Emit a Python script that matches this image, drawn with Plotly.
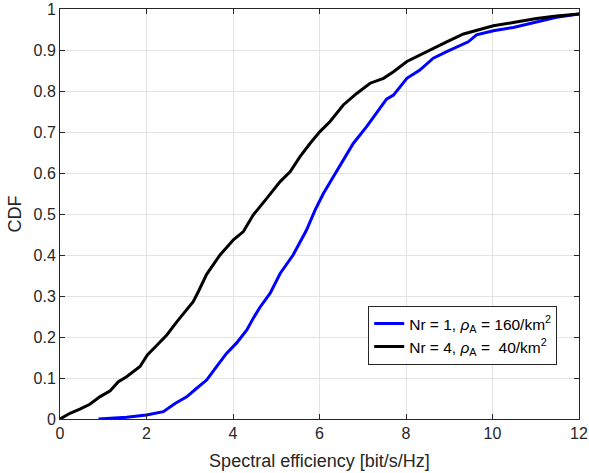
import plotly.graph_objects as go

# spectral efficiency [bit/s/Hz] and CDF values
se_nr1 = [0.89, 1.54, 2.0, 2.39, 2.66, 2.93, 3.16, 3.39, 3.62, 3.85, 4.08, 4.32, 4.47,
          4.62, 4.86, 5.09, 5.39, 5.70, 5.90, 6.09, 6.32, 6.55, 6.78, 7.09, 7.32,
          7.55, 7.71, 8.02, 8.32, 8.63, 8.94, 9.25, 9.44, 9.63, 10.02, 10.48, 11.02,
          11.48, 12.0]
cdf_nr1 = [0.0, 0.004, 0.010, 0.018, 0.038, 0.054, 0.075, 0.095, 0.128, 0.160, 0.185,
           0.217, 0.246, 0.272, 0.307, 0.355, 0.400, 0.461, 0.510, 0.550, 0.591, 0.632,
           0.672, 0.713, 0.746, 0.780, 0.790, 0.831, 0.851, 0.880, 0.896, 0.910, 0.920,
           0.937, 0.947, 0.955, 0.969, 0.980, 0.988]

se_nr4 = [0.0, 0.23, 0.46, 0.69, 0.92, 1.16, 1.35, 1.54, 1.85, 2.02, 2.24, 2.47, 2.70,
          2.93, 3.08, 3.20, 3.39, 3.70, 4.01, 4.24, 4.47, 4.78, 5.09, 5.32, 5.55, 5.78,
          6.01, 6.24, 6.55, 6.86, 7.17, 7.48, 7.71, 8.02, 8.32, 8.63, 8.94, 9.33, 9.71,
          10.02, 10.48, 11.02, 11.48, 12.0]
cdf_nr4 = [0.0, 0.014, 0.024, 0.036, 0.054, 0.069, 0.091, 0.103, 0.128, 0.156, 0.180,
           0.205, 0.237, 0.266, 0.286, 0.311, 0.353, 0.400, 0.437, 0.457, 0.498, 0.538,
           0.579, 0.603, 0.640, 0.672, 0.701, 0.725, 0.766, 0.794, 0.819, 0.831, 0.847,
           0.872, 0.888, 0.904, 0.920, 0.939, 0.950, 0.959, 0.967, 0.977, 0.983, 0.988]

label_nr1 = "Nr = 1, <i>ρ</i><sub>A</sub> = 160/km<sup>2</sup>"
label_nr4 = "Nr = 4, <i>ρ</i><sub>A</sub> =  40/km<sup>2</sup>"

x_ticks = [0, 2, 4, 6, 8, 10, 12]
y_ticks = [0, 0.1, 0.2, 0.3, 0.4, 0.5, 0.6, 0.7, 0.8, 0.9, 1]
y_tick_text = ["0", "0.1", "0.2", "0.3", "0.4", "0.5", "0.6", "0.7", "0.8", "0.9", "1"]

FONT = "Liberation Sans, Arial, sans-serif"
AXIS_COLOR = "#262626"
GRID_COLOR = "#e3e3e3"

fig = go.Figure()

fig.add_trace(go.Scatter(x=se_nr1, y=cdf_nr1, mode="lines", name=label_nr1,
                         line=dict(color="#0000ff", width=3)))
fig.add_trace(go.Scatter(x=se_nr4, y=cdf_nr4, mode="lines", name=label_nr4,
                         line=dict(color="#000000", width=3)))

axis_common = dict(
    showline=True, linecolor=AXIS_COLOR, linewidth=1, mirror="ticks",
    ticks="inside", ticklen=5, tickcolor=AXIS_COLOR,
    showgrid=True, gridcolor=GRID_COLOR, gridwidth=1,
    zeroline=False, automargin=False, ticklabeloverflow="allow",
    tickfont=dict(family=FONT, size=16, color=AXIS_COLOR),
)

fig.update_xaxes(range=[0, 12], tickvals=x_ticks,
                 title=dict(text="Spectral efficiency [bit/s/Hz]", standoff=13,
                            font=dict(family=FONT, size=18, color=AXIS_COLOR)),
                 **axis_common)
fig.update_yaxes(range=[0, 1], tickvals=y_ticks, ticktext=y_tick_text,
                 title=dict(text="CDF", standoff=7,
                            font=dict(family=FONT, size=18, color=AXIS_COLOR)),
                 **axis_common)

fig.update_layout(
    width=589, height=473,
    margin=dict(l=60, r=10, t=9, b=54),
    plot_bgcolor="white", paper_bgcolor="white",
    font=dict(family=FONT, size=16, color=AXIS_COLOR),
    showlegend=True,
    legend=dict(x=0.958, y=0.132, xanchor="right", yanchor="bottom",
                bgcolor="white", bordercolor=AXIS_COLOR, borderwidth=1,
                font=dict(family=FONT, size=15.5, color="#000000"),
                tracegroupgap=0),
)

# drop the browser's default body margin so the figure sits at the page origin
fig.write_html("out.html", config={"displayModeBar": False},
               post_script="document.body.style.margin='0';")
